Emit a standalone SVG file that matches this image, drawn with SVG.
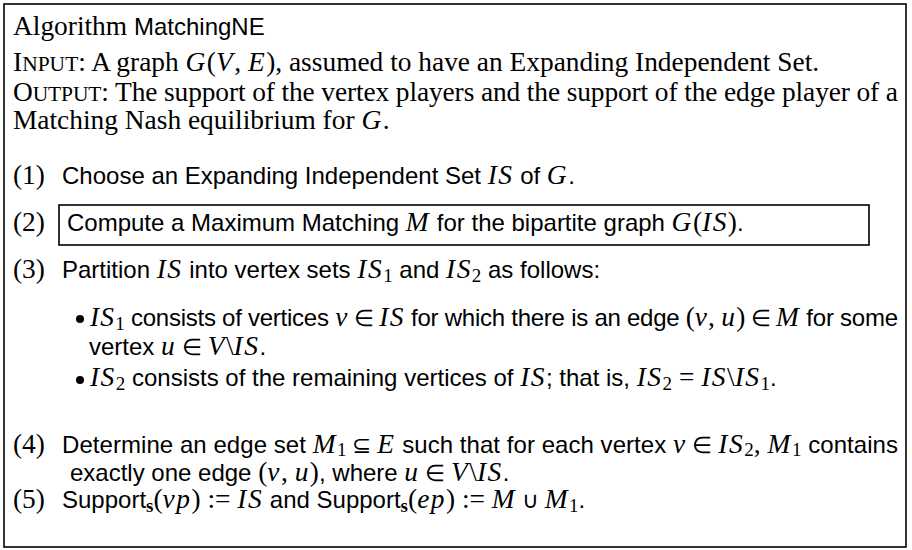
<svg xmlns="http://www.w3.org/2000/svg" width="912" height="550" viewBox="0 0 912 550">
<style>
text{font-family:"Liberation Serif","Times New Roman",serif;font-size:27.4px;fill:#000}
.s{font-family:"Liberation Sans",Arial,sans-serif;font-size:24px}
.m{font-family:"Liberation Serif","Times New Roman",serif;font-style:italic;font-size:27.4px;letter-spacing:1.5px}
.r{font-family:"Liberation Serif","Times New Roman",serif;font-style:normal;font-size:27.4px}
.e{font-family:"Liberation Serif","Times New Roman",serif;font-style:normal;font-size:23px}
.sub{font-family:"Liberation Serif","Times New Roman",serif;font-style:normal;font-size:19px}
.sc{font-size:21.5px}
.frame{fill:none;stroke:#000;stroke-width:1.6}
</style>
<rect class="frame" x="4" y="4" width="902" height="543"/>
<g id="header">
<text x="13" y="35">Algorithm <tspan class="s">MatchingNE</tspan></text>
</g>
<g id="io">
<text x="13" y="71">I<tspan class="sc">NPUT</tspan>: A graph <tspan class="m">G</tspan>(<tspan class="m">V</tspan>, <tspan class="m">E</tspan>), assumed to have an Expanding Independent Set.</text>
<text x="13" y="101" textLength="885" lengthAdjust="spacing">O<tspan class="sc">UTPUT</tspan>: The support of the vertex players and the support of the edge player of a</text>
<text x="13" y="129">Matching Nash equilibrium for <tspan class="m">G</tspan>.</text>
</g>
<g id="step1">
<text x="13" y="184">(1)</text>
<text class="s" x="62" y="184">Choose an Expanding Independent Set <tspan class="m">IS</tspan> of <tspan class="m">G</tspan>.</text>
</g>
<g id="step2">
<text x="13" y="231">(2)</text>
<rect class="frame" x="59" y="205" width="810" height="40"/>
<text class="s" x="67" y="231">Compute a Maximum Matching <tspan class="m">M</tspan> for the bipartite graph <tspan class="m">G</tspan><tspan class="r">(</tspan><tspan class="m">IS</tspan><tspan class="r">)</tspan>.</text>
</g>
<g id="step3">
<text x="13" y="278">(3)</text>
<text class="s" x="62" y="278">Partition <tspan class="m">IS</tspan> into vertex sets <tspan class="m">IS</tspan><tspan class="sub" dy="4">1</tspan><tspan dy="-4"> and </tspan><tspan class="m">IS</tspan><tspan class="sub" dy="4">2</tspan><tspan dy="-4"> as follows:</tspan></text>
<circle cx="80" cy="319" r="4"/>
<text class="s" x="90" y="326" textLength="808" lengthAdjust="spacing"><tspan class="m">IS</tspan><tspan class="sub" dy="4">1</tspan><tspan dy="-4"> consists of vertices </tspan><tspan class="m">v</tspan><tspan class="e"> ∈ </tspan><tspan class="m">IS</tspan> for which there is an edge <tspan class="r">(</tspan><tspan class="m">v</tspan><tspan class="r">, </tspan><tspan class="m">u</tspan><tspan class="r">)</tspan><tspan class="e"> ∈ </tspan><tspan class="m">M</tspan> for some</text>
<text class="s" x="89" y="355">vertex <tspan class="m">u</tspan><tspan class="e"> ∈ </tspan><tspan class="m">V</tspan><tspan class="r">\</tspan><tspan class="m">IS</tspan>.</text>
<circle cx="80" cy="380" r="4"/>
<text class="s" x="90" y="386"><tspan class="m">IS</tspan><tspan class="sub" dy="4">2</tspan><tspan dy="-4"> consists of the remaining vertices of </tspan><tspan class="m">IS</tspan>; that is, <tspan class="m">IS</tspan><tspan class="sub" dy="4">2</tspan><tspan class="r" dy="-4"> = </tspan><tspan class="m">IS</tspan><tspan class="r">\</tspan><tspan class="m">IS</tspan><tspan class="sub" dy="4">1</tspan><tspan dy="-4">.</tspan></text>
</g>
<g id="step4">
<text x="13" y="453">(4)</text>
<text class="s" x="62" y="453" textLength="836" lengthAdjust="spacing">Determine an edge set <tspan class="m">M</tspan><tspan class="sub" dy="3">1</tspan><tspan class="e" dy="-3"> ⊆ </tspan><tspan class="m">E</tspan> such that for each vertex <tspan class="m">v</tspan><tspan class="e"> ∈ </tspan><tspan class="m">IS</tspan><tspan class="sub" dy="3">2</tspan><tspan class="r" dy="-3">, </tspan><tspan class="m">M</tspan><tspan class="sub" dy="3">1</tspan><tspan dy="-3"> contains</tspan></text>
<text class="s" x="70" y="481">exactly one edge <tspan class="r">(</tspan><tspan class="m">v</tspan><tspan class="r">, </tspan><tspan class="m">u</tspan><tspan class="r">)</tspan>, where <tspan class="m">u</tspan><tspan class="e"> ∈ </tspan><tspan class="m">V</tspan><tspan class="r">\</tspan><tspan class="m">IS</tspan>.</text>
</g>
<g id="step5">
<text x="13" y="508">(5)</text>
<text class="s" x="62" y="508">Support<tspan class="sub" font-weight="bold" dy="4">s</tspan><tspan class="r" dy="-4">(</tspan><tspan class="m">vp</tspan><tspan class="r">) := </tspan><tspan class="m">IS</tspan> and Support<tspan class="sub" font-weight="bold" dy="4">s</tspan><tspan class="r" dy="-4">(</tspan><tspan class="m">ep</tspan><tspan class="r">) := </tspan><tspan class="m">M</tspan><tspan class="e"> ∪ </tspan><tspan class="m">M</tspan><tspan class="sub" dy="4">1</tspan><tspan dy="-4">.</tspan></text>
</g>
</svg>
